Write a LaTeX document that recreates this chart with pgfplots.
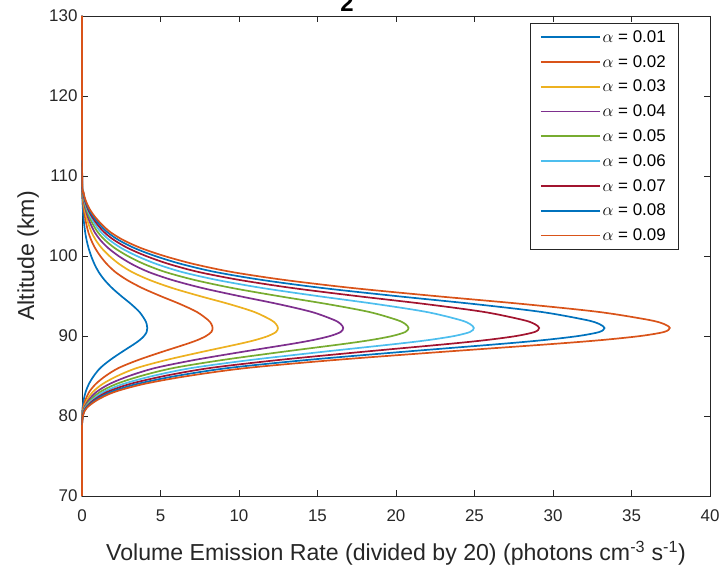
\documentclass[border=0pt]{standalone}
\usepackage{pgfplots}
\pgfplotsset{compat=1.18}
\usepackage{pgfplotstable}
\usepackage{fontspec}
\setmainfont{Liberation Sans}
\definecolor{axisgray}{rgb}{0.15,0.15,0.15}
\definecolor{c1}{RGB}{0,114,189}
\definecolor{c2}{RGB}{217,83,25}
\definecolor{c3}{RGB}{237,177,32}
\definecolor{c4}{RGB}{126,47,142}
\definecolor{c5}{RGB}{119,172,48}
\definecolor{c6}{RGB}{77,190,238}
\definecolor{c7}{RGB}{162,20,47}
\pgfplotstableread{
z a1 a2 a3 a4 a5 a6 a7 a8 a9
70 0 0 0 0 0 0 0 0 0
78 0 0 0 0 0 0 0 0 0
80 0.006 0.012 0.019 0.025 0.031 0.037 0.044 0.050 0.056
81 0.033 0.067 0.100 0.133 0.166 0.200 0.233 0.266 0.300
82 0.108 0.216 0.324 0.433 0.541 0.649 0.757 0.865 0.973
83 0.229 0.458 0.686 0.915 1.144 1.373 1.602 1.830 2.059
84 0.437 0.874 1.310 1.747 2.184 2.621 3.058 3.494 3.931
85 0.749 1.498 2.246 2.995 3.744 4.493 5.242 5.990 6.739
86 1.165 2.330 3.494 4.659 5.824 6.989 8.154 9.318 10.483
87 1.789 3.578 5.366 7.155 8.944 10.733 12.522 14.310 16.099
88 2.538 5.075 7.613 10.150 12.688 15.226 17.763 20.301 22.838
89 3.328 6.656 9.984 13.312 16.640 19.968 23.296 26.624 29.952
89.5 3.682 7.363 11.045 14.726 18.408 22.090 25.771 29.453 33.134
90 3.952 7.904 11.856 15.808 19.760 23.712 27.664 31.616 35.568
90.5 4.118 8.237 12.355 16.474 20.592 24.710 28.829 32.947 37.066
91 4.160 8.320 12.480 16.640 20.800 24.960 29.120 33.280 37.440
91.5 4.118 8.237 12.355 16.474 20.592 24.710 28.829 32.947 37.066
92 4.014 8.029 12.043 16.058 20.072 24.086 28.101 32.115 36.130
93 3.661 7.322 10.982 14.643 18.304 21.965 25.626 29.286 32.947
94 3.120 6.240 9.360 12.480 15.600 18.720 21.840 24.960 28.080
95 2.496 4.992 7.488 9.984 12.480 14.976 17.472 19.968 22.464
96 1.914 3.827 5.741 7.654 9.568 11.482 13.395 15.309 17.222
97 1.435 2.870 4.306 5.741 7.176 8.611 10.046 11.482 12.917
98 1.061 2.122 3.182 4.243 5.304 6.365 7.426 8.486 9.547
99 0.790 1.581 2.371 3.162 3.952 4.742 5.533 6.323 7.114
100 0.582 1.165 1.747 2.330 2.912 3.494 4.077 4.659 5.242
101 0.416 0.832 1.248 1.664 2.080 2.496 2.912 3.328 3.744
102 0.291 0.582 0.874 1.165 1.456 1.747 2.038 2.330 2.621
103 0.200 0.399 0.599 0.799 0.998 1.198 1.398 1.597 1.797
104 0.137 0.275 0.412 0.549 0.686 0.824 0.961 1.098 1.236
105 0.087 0.175 0.262 0.349 0.437 0.524 0.612 0.699 0.786
106 0.050 0.100 0.150 0.200 0.250 0.300 0.349 0.399 0.449
107 0.025 0.050 0.075 0.100 0.125 0.150 0.175 0.200 0.225
108 0.010 0.021 0.031 0.042 0.052 0.062 0.073 0.083 0.094
110 0.001 0.002 0.004 0.005 0.006 0.007 0.009 0.010 0.011
130 0 0 0 0 0 0 0 0 0
}\vertable
\begin{document}
\begin{tikzpicture}
\begin{axis}[
  at={(0,0)}, anchor=south west,
  scale only axis, width=628bp, height=480bp,
  xmin=0, xmax=40, ymin=70, ymax=130,
  xtick={0,5,...,40}, ytick={70,80,...,130},
  tick align=inside, major tick length=6bp,
  axis line style={color=axisgray, line width=0.6bp},
  tick style={color=axisgray, line width=0.6bp},
  /pgf/number format/assume math mode=true,
  ticklabel style={font=\fontsize{17}{17}\selectfont, color=axisgray},
  xticklabel style={yshift=-10bp},
  yticklabel style={xshift=-1bp},
  clip=false,
  xlabel={Volume Emission Rate (divided by 20) (photons cm\textsuperscript{-3} s\textsuperscript{-1})},
  ylabel={Altitude (km)},
  label style={font=\fontsize{23.2}{23.2}\selectfont, color=axisgray},
  xlabel style={at={(axis description cs:0.5,-0.1354)}, anchor=base},
  ylabel style={at={(axis description cs:-0.0764,0.5)}, anchor=base},
  legend cell align=left,
  legend style={at={(rel axis cs:0.949,0.985)}, anchor=north east,
    draw=axisgray, fill=white,
    font=\fontsize{17}{17}\selectfont,
    inner xsep=10bp, inner ysep=5bp, row sep=7.5bp,
    nodes={inner sep=2bp}},
  legend image code/.code={\draw[#1, line width=1.7bp] (0bp,0bp) -- (59bp,0bp);},
  every axis plot/.append style={line width=1.7bp, smooth},
]
\addplot[c1] table[x=a1, y=z] {\vertable};
\addlegendentry{$\alpha$ = 0.01}
\addplot[c2] table[x=a2, y=z] {\vertable};
\addlegendentry{$\alpha$ = 0.02}
\addplot[c3] table[x=a3, y=z] {\vertable};
\addlegendentry{$\alpha$ = 0.03}
\addplot[c4] table[x=a4, y=z] {\vertable};
\addlegendentry{$\alpha$ = 0.04}
\addplot[c5] table[x=a5, y=z] {\vertable};
\addlegendentry{$\alpha$ = 0.05}
\addplot[c6] table[x=a6, y=z] {\vertable};
\addlegendentry{$\alpha$ = 0.06}
\addplot[c7] table[x=a7, y=z] {\vertable};
\addlegendentry{$\alpha$ = 0.07}
\addplot[c1] table[x=a8, y=z] {\vertable};
\addlegendentry{$\alpha$ = 0.08}
\addplot[c2] table[x=a9, y=z] {\vertable};
\addlegendentry{$\alpha$ = 0.09}
\end{axis}
\node[anchor=base, inner sep=0pt, font=\bfseries\fontsize{24}{24}\selectfont] at (265bp,484bp) {2};
\pgfresetboundingbox
\useasboundingbox (-82bp,-74bp) rectangle (641bp,496bp);
\end{tikzpicture}
\end{document}
